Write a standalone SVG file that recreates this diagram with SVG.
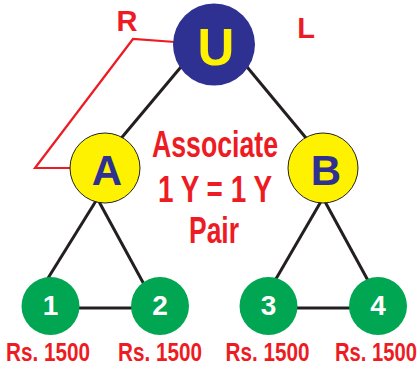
<svg xmlns="http://www.w3.org/2000/svg" width="419" height="367" viewBox="0 0 419 367">
<style>
.edge{stroke:#231F20;stroke-width:3;fill:none}
.red{stroke:#ED1C24;stroke-width:2.2;fill:none}
.lbl{font-family:"Liberation Sans",Arial,sans-serif;font-weight:bold;text-anchor:middle}
.rt{fill:#ED1C24}
.yc{fill:#FFF200;stroke:#231F20;stroke-width:1}
.gc{fill:#00A651}
.num{fill:#FFFFFF;font-size:28px}
.nm{fill:#2E3192;font-size:42px}
.amt{font-size:26px}
</style>
<rect width="419" height="367" fill="#FFFFFF"/>
<g id="connectors">
<line class="edge" x1="183" y1="64.5" x2="118" y2="142"/>
<line class="edge" x1="245" y1="64.5" x2="311" y2="144"/>
<line class="edge" x1="99" y1="196" x2="45" y2="283"/>
<line class="edge" x1="97" y1="198" x2="146" y2="288"/>
<line class="edge" x1="323" y1="198" x2="273" y2="284"/>
<line class="edge" x1="323" y1="198" x2="371" y2="286"/>
<line class="edge" x1="50" y1="308" x2="160" y2="308"/>
<line class="edge" x1="268" y1="308" x2="378" y2="308"/>
<polyline class="red" points="72,168 35,168 133,39 175,42"/>
</g>
<g id="node-U">
<circle cx="214" cy="44.5" r="41" fill="#2E3192"/>
<text class="lbl" x="216" y="65" font-size="51" fill="#FFF200">U</text>
</g>
<g id="node-A">
<circle class="yc" cx="105" cy="168" r="35"/>
<text class="lbl nm" x="107" y="185">A</text>
</g>
<g id="node-B">
<circle class="yc" cx="323" cy="168" r="35"/>
<text class="lbl nm" x="326" y="185">B</text>
</g>
<g id="node-1">
<circle class="gc" cx="50.5" cy="306" r="29"/>
<text class="lbl num" x="50.5" y="315">1</text>
</g>
<g id="node-2">
<circle class="gc" cx="160" cy="306" r="29"/>
<text class="lbl num" x="160" y="315">2</text>
</g>
<g id="node-3">
<circle class="gc" cx="268.5" cy="306" r="29"/>
<text class="lbl num" x="268.5" y="315">3</text>
</g>
<g id="node-4">
<circle class="gc" cx="378" cy="306" r="29"/>
<text class="lbl num" x="378" y="315">4</text>
</g>
<g id="labels">
<text class="lbl rt" x="127" y="31" font-size="29">R</text>
<text class="lbl rt" x="306" y="38" font-size="29">L</text>
<text class="lbl rt" x="215" y="157" font-size="36" textLength="126" lengthAdjust="spacingAndGlyphs">Associate</text>
<text class="lbl rt" x="215" y="202" font-size="36" textLength="114" lengthAdjust="spacingAndGlyphs">1 Y = 1 Y</text>
<text class="lbl rt" x="214" y="243" font-size="36" textLength="50" lengthAdjust="spacingAndGlyphs">Pair</text>
<text class="lbl rt amt" x="48" y="361" textLength="84" lengthAdjust="spacingAndGlyphs">Rs. 1500</text>
<text class="lbl rt amt" x="160" y="361" textLength="84" lengthAdjust="spacingAndGlyphs">Rs. 1500</text>
<text class="lbl rt amt" x="267.5" y="361" textLength="84" lengthAdjust="spacingAndGlyphs">Rs. 1500</text>
<text class="lbl rt amt" x="376" y="361" textLength="82" lengthAdjust="spacingAndGlyphs">Rs. 1500</text>
</g>
</svg>
